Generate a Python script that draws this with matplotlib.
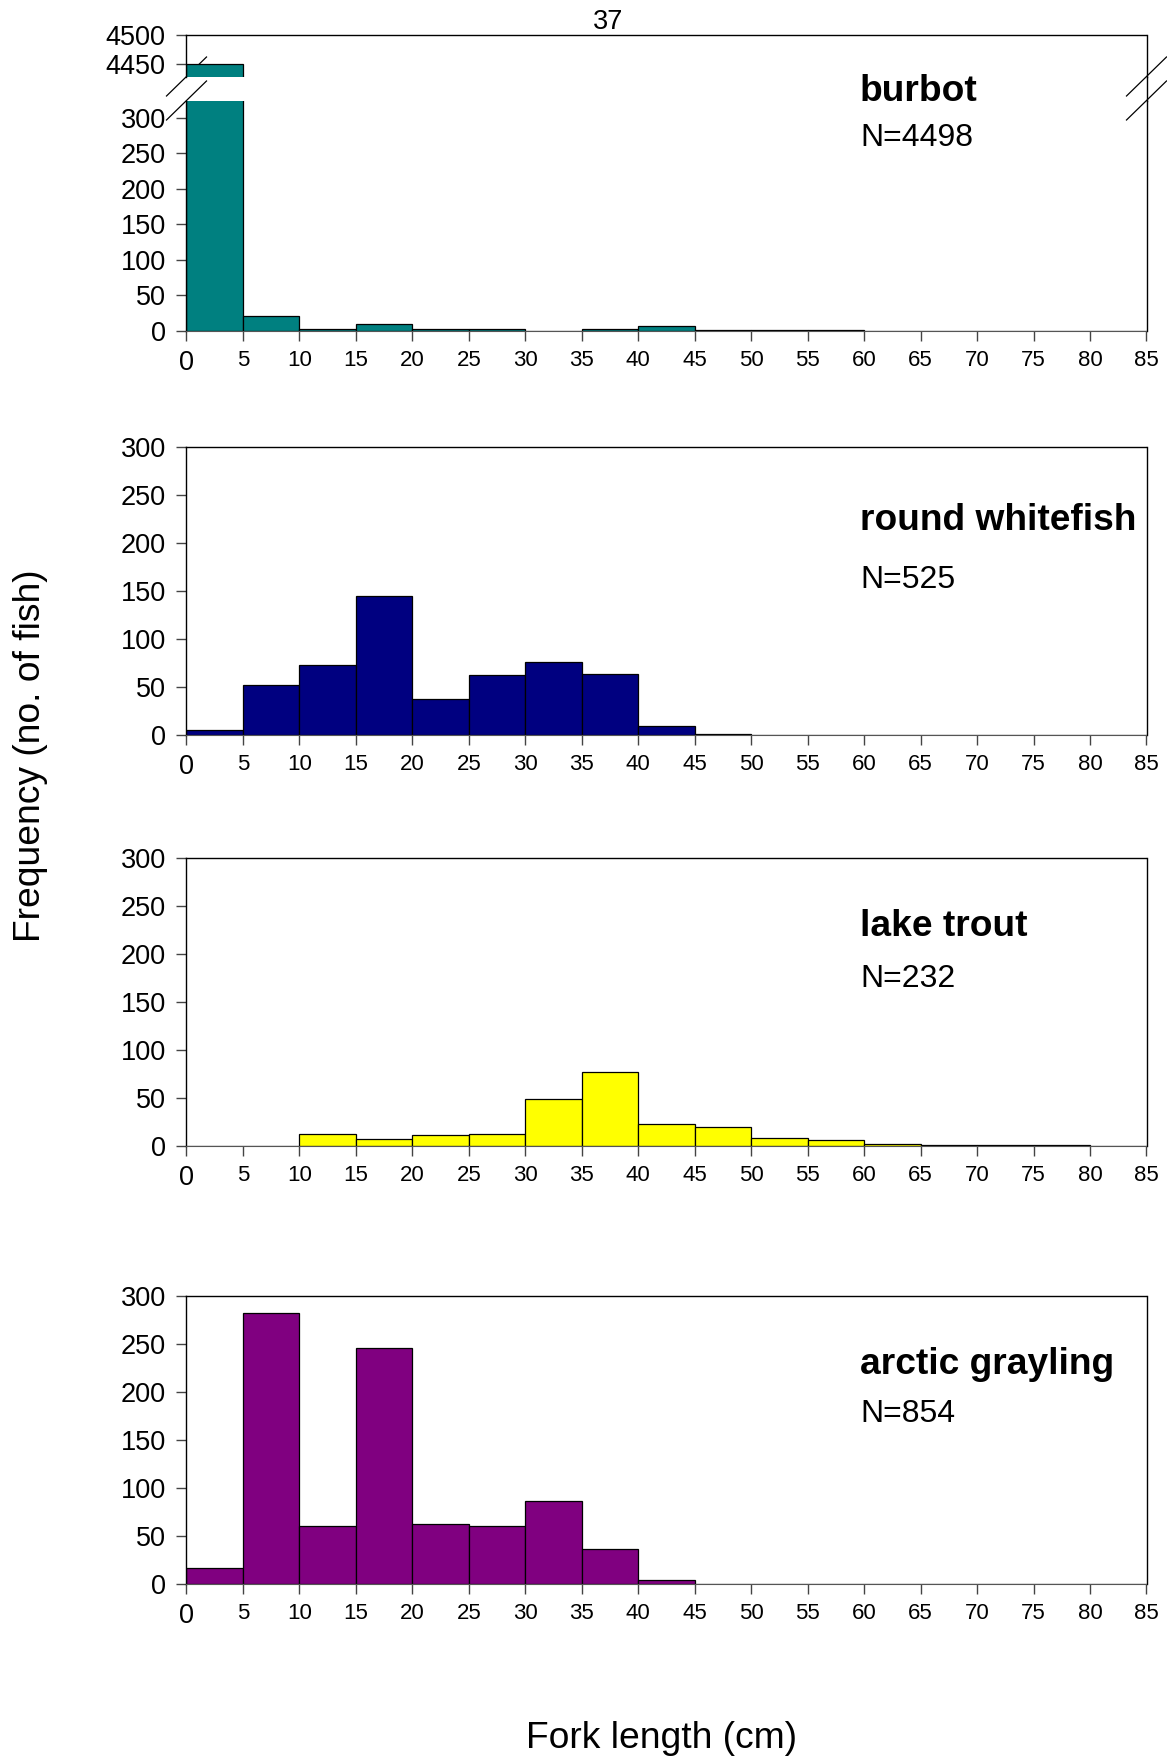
import matplotlib
matplotlib.use("Agg")
import matplotlib.pyplot as plt
from matplotlib.lines import Line2D

plt.rcParams['font.family'] = ['Liberation Sans', 'DejaVu Sans']

# fork length bins (left edges, cm), 5 cm wide
bin_left = [0, 5, 10, 15, 20, 25, 30, 35, 40, 45, 50, 55, 60, 65, 70, 75, 80]
bin_width = 5

burbot = [4450, 21, 2, 9, 3, 2, 0, 2, 6, 1, 1, 1, 0, 0, 0, 0, 0]
round_whitefish = [5, 52, 73, 145, 37, 63, 76, 64, 9, 1, 0, 0, 0, 0, 0, 0, 0]
lake_trout = [0, 0, 13, 7, 11, 13, 49, 77, 23, 20, 8, 6, 2, 1, 1, 1, 0]
arctic_grayling = [17, 282, 60, 246, 63, 60, 86, 36, 4, 0, 0, 0, 0, 0, 0, 0, 0]

species = ["burbot", "round whitefish", "lake trout", "arctic grayling"]
n_fish = [4498, 525, 232, 854]
colors = ["#008080", "#000080", "#FFFF00", "#800080"]

xticks = [0, 5, 10, 15, 20, 25, 30, 35, 40, 45, 50, 55, 60, 65, 70, 75, 80, 85]
yticks = [0, 50, 100, 150, 200, 250, 300]
break_ticks = [4450, 4500]

W, H = 1167, 1762
fig = plt.figure(figsize=(W / 100, H / 100), dpi=100)


def px_axes(top, bottom, left=186.5, right=1146.5):
    return fig.add_axes([left / W, 1 - bottom / H, (right - left) / W, (bottom - top) / H])


def style(ax, bottom_axis=True):
    ax.set_xlim(0, 85)
    ax.tick_params(axis='y', direction='out', length=7, width=1, pad=8,
                   labelsize=19.5, color='#444444')
    if bottom_axis:
        ax.set_xticks(xticks)
        ax.tick_params(axis='x', direction='out', length=7, width=1, pad=7,
                       labelsize=16, color='#444444')
        labels = ax.get_xticklabels()
        labels[0].set_fontsize(19.5)
        ax.spines['bottom'].set_color('#555555')
    for s in ('left', 'right', 'top'):
        ax.spines[s].set_linewidth(1)


# ---- burbot: broken y axis ----
ax_hi = px_axes(34.8, 76.7)
ax_lo = px_axes(100.7, 330.7)
for ax in (ax_hi, ax_lo):
    ax.bar(bin_left, burbot, width=bin_width, align='edge', color=colors[0],
           edgecolor='black', linewidth=0.9, zorder=2)
    ax.set_facecolor('none')
ax_hi.set_ylim(4428.3, 4500)
ax_hi.set_yticks(break_ticks)
ax_hi.set_xticks([])
ax_hi.spines['bottom'].set_visible(False)
style(ax_hi, bottom_axis=False)
ax_lo.set_ylim(0, 324)
ax_lo.set_yticks(yticks)
ax_lo.spines['top'].set_visible(False)
style(ax_lo)

# break marks and the continuous right frame line
for cx in (186.5, 1146.5):
    for cy in (76.5, 100.5):
        fig.add_artist(Line2D([(cx - 20) / W, (cx + 20) / W],
                              [1 - (cy + 19.5) / H, 1 - (cy - 19.5) / H],
                              transform=fig.transFigure, color='black',
                              linewidth=0.9, zorder=-1))
fig.add_artist(Line2D([1146.5 / W, 1146.5 / W], [1 - 76.7 / H, 1 - 100.7 / H],
                      transform=fig.transFigure, color='black', linewidth=1))

# ---- remaining species ----
panels = [(447, 735, round_whitefish), (858, 1146, lake_trout), (1296, 1584, arctic_grayling)]
for i, (top, bottom, counts) in enumerate(panels, start=1):
    ax = px_axes(top, bottom)
    ax.bar(bin_left, counts, width=bin_width, align='edge', color=colors[i],
           edgecolor='black', linewidth=0.9, zorder=2)
    ax.set_ylim(0, 300)
    ax.set_yticks(yticks)
    style(ax)

# species names and sample sizes
name_y = [101, 530, 936, 1374]
n_y = [146, 588, 987, 1422]
for name, n, ny, nn in zip(species, n_fish, name_y, n_y):
    fig.text(860 / W, 1 - ny / H, name, fontsize=26.7, fontweight='bold',
             ha='left', va='baseline')
    fig.text(860 / W, 1 - nn / H, f"N={n}", fontsize=23, ha='left', va='baseline')

fig.text(608 / W, 1 - 22 / H, "37", fontsize=19.5, ha='center', va='center')
fig.text(31 / W, 1 - 756 / H, "Frequency (no. of fish)", fontsize=26.8,
         rotation=90, ha='center', va='center')
fig.text(661 / W, 1 - 1739 / H, "Fork length (cm)", fontsize=26.8,
         ha='center', va='center')

fig.savefig("out.png", dpi=100)
plt.close(fig)
